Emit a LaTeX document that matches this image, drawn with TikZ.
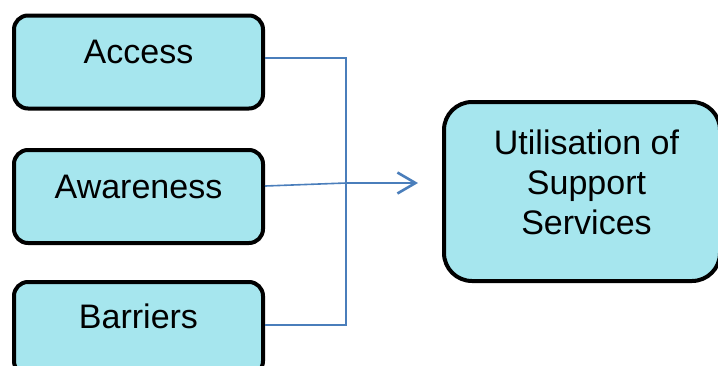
\documentclass[tikz,border=0pt]{standalone}
\usepackage{fontspec}
\setmainfont{Liberation Sans}
\usetikzlibrary{arrows.meta,calc}
\definecolor{boxfill}{RGB}{166,230,238}
\definecolor{linkblue}{RGB}{74,126,187}
\tikzset{
  factorbox/.style={draw=black, fill=boxfill, line width=4pt, rounded corners=14pt,
    minimum width=249pt, minimum height=93pt, inner sep=0pt},
  outcomebox/.style={draw=black, fill=boxfill, line width=4pt, rounded corners=28pt,
    minimum width=276pt, minimum height=179pt, inner sep=0pt},
  boxtext/.style={font=\fontsize{34}{40}\selectfont, inner sep=0pt, align=center},
  conn/.style={draw=linkblue, line width=1.6pt},
  tip/.style={-{Straight Barb[length=18pt,width=21pt,line width=2.6pt]}}
}
\begin{document}
\begin{tikzpicture}[x=1pt,y=-1pt]
  \useasboundingbox (0,0) rectangle (718,365);
  \clip (0,0) rectangle (718,365);

  % input factors
  \node[factorbox] (acc) at (138.5,62) {};
  \node[factorbox] (awa) at (138.5,196.5) {};
  \node[factorbox] (bar) at (138.5,328.5) {};
  \node[boxtext, anchor=base] (acct) at (138.5,63) {Access};
  \node[boxtext, anchor=base] (awat) at (138.5,198) {Awareness};
  \node[boxtext, anchor=base] (bart) at (138.5,328) {Barriers};

  % outcome
  \node[outcomebox] (util) at (582,191.5) {};
  \node[boxtext] (utilt) at (586.5,182) {Utilisation of\\Support\\Services};

  % connectors joining at a common point
  \coordinate (j) at (346,183);
  \coordinate (arr) at (418,183);
  \draw[conn] ([yshift=4pt]acc.east) -| (j);
  \draw[conn] ([yshift=3.5pt]bar.east) -| (j);
  \draw[conn] ([yshift=10.5pt]awa.east) -- (j);
  \draw[conn, tip] (j) -- (arr);
\end{tikzpicture}
\end{document}
